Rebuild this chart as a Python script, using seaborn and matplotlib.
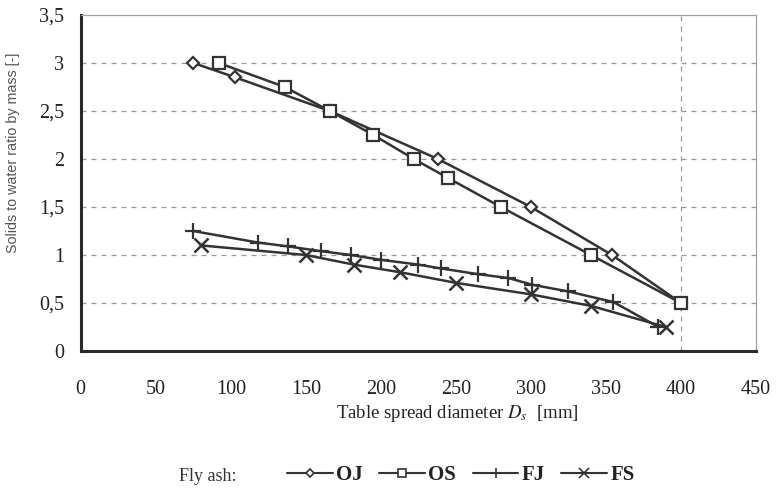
import matplotlib
matplotlib.use("Agg")
import matplotlib.pyplot as plt
import seaborn as sns
import numpy as np
from matplotlib.ticker import FuncFormatter
from matplotlib.lines import Line2D

# ---- data ----
oj_x = [75, 103, 166, 238, 300, 354, 400]
oj_y = [3.0, 2.85, 2.5, 2.0, 1.5, 1.0, 0.5]

os_x = [92, 136, 166, 195, 222, 245, 280, 340, 400]
os_y = [3.0, 2.75, 2.5, 2.25, 2.0, 1.8, 1.5, 1.0, 0.5]

fj_x = [75, 118, 138, 160, 180, 200, 225, 240, 265, 285, 301, 325, 355, 385]
fj_y = [1.25, 1.13, 1.09, 1.04, 1.0, 0.95, 0.9, 0.86, 0.8, 0.76, 0.69, 0.62, 0.51, 0.25]

fs_x = [80, 150, 182, 213, 250, 300, 340, 390]
fs_y = [1.1, 1.0, 0.9, 0.82, 0.71, 0.59, 0.47, 0.25]

series_names = ["OJ", "OS", "FJ", "FS"]
x_ticks = [0, 50, 100, 150, 200, 250, 300, 350, 400, 450]
y_ticks = [0, 0.5, 1, 1.5, 2, 2.5, 3, 3.5]

sns.set_style("white")
plt.rcParams["font.family"] = ["Liberation Serif", "DejaVu Serif"]
plt.rcParams["mathtext.fontset"] = "stix"

fig = plt.figure(figsize=(7.77, 4.91), dpi=100)
ax = fig.add_axes([0.1039, 0.2851, 0.973 - 0.1039, 0.9695 - 0.2851])

lc = "#333333"
styles = {
    "OJ": dict(marker="D", markersize=6.5),
    "OS": dict(marker="s", markersize=9),
    "FJ": dict(marker="+", markersize=11, markeredgewidth=1.6),
    "FS": dict(marker="x", markersize=10, markeredgewidth=1.8),
}
data = {"OJ": (oj_x, oj_y), "OS": (os_x, os_y), "FJ": (fj_x, fj_y), "FS": (fs_x, fs_y)}

for name in series_names:
    xs, ys = data[name]
    st = styles[name]
    sns.lineplot(x=xs, y=ys, ax=ax, color=lc, linewidth=1.8, estimator=None, sort=False,
                 marker=st["marker"], markersize=st["markersize"],
                 markerfacecolor="white", markeredgecolor=lc,
                 markeredgewidth=st.get("markeredgewidth", 1.6))

ax.set_xlim(0, 450)
ax.set_ylim(0, 3.5)
ax.set_xticks(x_ticks)
ax.set_yticks(y_ticks)
ax.yaxis.set_major_formatter(FuncFormatter(lambda v, p: ("%g" % v).replace(".", ",")))

# grid: horizontal dashed lines, vertical dashed at 400
for yv in y_ticks[1:-1]:
    ax.axhline(yv, color="#9a9a9a", linestyle=(0, (4, 4)), linewidth=0.9, zorder=0)
ax.axvline(400, color="#9a9a9a", linestyle=(0, (4, 4)), linewidth=0.9, zorder=0)

for s in ["left", "bottom"]:
    ax.spines[s].set_color("#2a2a2a")
    ax.spines[s].set_linewidth(2.2)
for s in ["top", "right"]:
    ax.spines[s].set_color("#a0a0a0")
    ax.spines[s].set_linewidth(0.9)

ax.tick_params(axis="both", direction="in", length=5, width=2, color="#2a2a2a",
               labelsize=14.5, labelcolor="#222222")
ax.tick_params(axis="y", pad=12)
ax.tick_params(axis="x", pad=21)

ax.set_xlabel("Table spread diameter $D_s$  [mm]", fontsize=13.5, color="#222222", labelpad=5)
ax.xaxis.set_label_coords(0.557, -0.155)
ax.set_ylabel("Solids to water ratio by mass [-]", fontsize=10.3, color="#555555",
              family=["Liberation Sans", "DejaVu Sans"])
ax.yaxis.set_label_coords(-0.090, 0.59)

# legend
handles = []
for name in series_names:
    st = styles[name]
    handles.append(Line2D([], [], color=lc, linewidth=1.5, marker=st["marker"],
                          markersize=st["markersize"] * 0.65, markerfacecolor="white",
                          markeredgecolor=lc, markeredgewidth=1.2))
leg = fig.legend(handles, series_names, loc="center", bbox_to_anchor=(0.593, 0.033),
                 ncol=4, frameon=False, prop={"weight": "bold", "size": 15},
                 handlelength=2.2, handletextpad=0.15, columnspacing=0.8)
for t in leg.get_texts():
    t.set_color("#222222")
fig.text(0.268, 0.030, "Fly ash:", ha="center", va="center", fontsize=13, color="#333333")

fig.savefig("out.png", dpi=100)
